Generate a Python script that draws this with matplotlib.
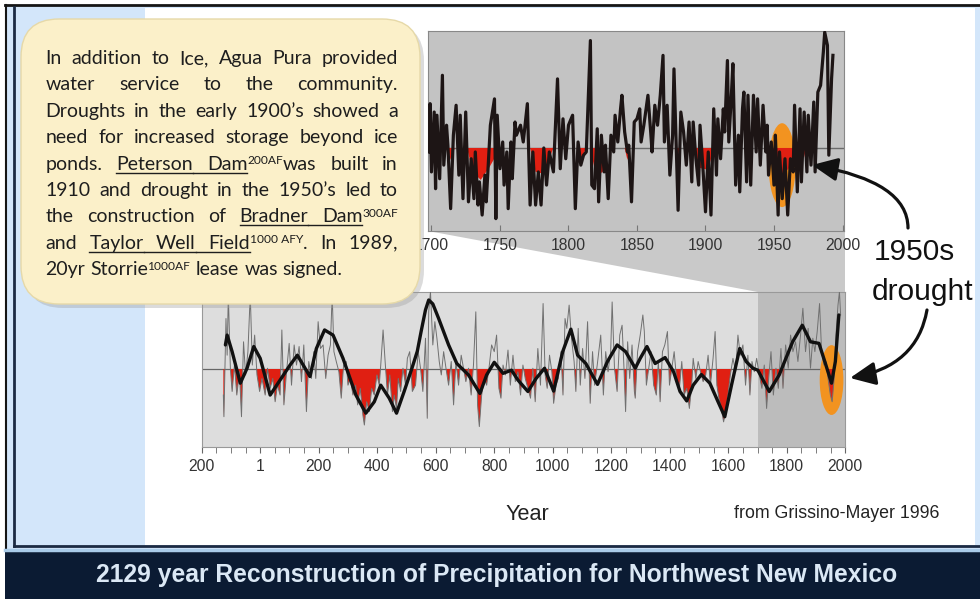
import matplotlib.pyplot as plt
import numpy as np
from matplotlib import font_manager
from matplotlib.patches import FancyBboxPatch, Ellipse, Polygon, Rectangle, FancyArrowPatch

# ---- values ----
# 1700-1992 panel: annual line (peaks/troughs) and the smoothed red deficit
top_years = [1698, 1699, 1700, 1702, 1703, 1704, 1706, 1708, 1709, 1711, 1712, 1714,
             1716, 1718, 1720, 1721, 1723, 1725, 1727, 1729, 1731, 1732, 1734, 1735,
             1737, 1739, 1740, 1743, 1746, 1747, 1748, 1750, 1752, 1753, 1755, 1756,
             1758, 1759, 1761, 1762, 1765, 1767, 1770, 1772, 1774, 1776, 1778, 1780,
             1782, 1784, 1786, 1789, 1792, 1794, 1796, 1798, 1800, 1803, 1805, 1807,
             1809, 1811, 1813, 1816, 1817, 1819, 1821, 1822, 1824, 1826, 1827, 1829,
             1831, 1833, 1834, 1836, 1838, 1839, 1841, 1843, 1844, 1846, 1848, 1850,
             1852, 1853, 1855, 1857, 1858, 1860, 1861, 1863, 1865, 1867, 1869, 1870,
             1872, 1874, 1876, 1877, 1879, 1880, 1882, 1884, 1886, 1888, 1890, 1891,
             1893, 1895, 1896, 1898, 1900, 1902, 1904, 1906, 1908, 1909, 1911, 1913,
             1914, 1916, 1917, 1919, 1920, 1922, 1924, 1925, 1927, 1928, 1930, 1931,
             1933, 1935, 1937, 1938, 1940, 1942, 1944, 1945, 1946, 1948, 1950, 1951,
             1953, 1954, 1956, 1958, 1960, 1962, 1964, 1965, 1967, 1969, 1970, 1972,
             1974, 1975, 1977, 1979, 1980, 1982, 1984, 1986, 1987, 1989, 1990, 1992, 1993]
top_vals = [-0.10, 1.11, -0.60, 0.90, -1.02, 0.82, -0.77, 1.82, -0.43, 0.57, 0.07, -1.52,
            0.32, 1.07, -0.68, 0.82, -1.27, 0.90, -1.35, -0.27, -1.27, -0.10, -1.43, -0.85,
            -1.68, -0.68, -1.35, 0.57, 1.23, -1.77, 0.82, -0.52, 0.15, -0.93, -0.10, -1.52,
            0.15, -0.77, 0.65, 0.32, 0.57, 0.15, 1.11, -1.43, -0.10, -1.43, -0.60, -1.43,
            0.00, -0.93, -0.10, -0.60, 1.73, -0.52, 0.73, -0.27, 0.57, 0.82, -1.52, 0.15,
            -0.43, -0.18, -0.10, 2.69, -0.93, -1.02, 0.48, -1.35, 0.32, -0.60, 0.07, -1.27,
            0.32, -0.10, 0.82, 0.15, 0.98, 1.32, 0.40, -0.10, 0.07, -1.35, 0.65, 0.73,
            0.98, 0.15, 0.57, 1.07, 1.32, 0.40, -0.10, 1.07, 0.57, 1.32, 2.32, 0.15,
            1.07, -0.68, 0.32, 1.98, -0.43, -1.56, 0.90, 0.40, -0.43, 0.65, -0.85, 0.65,
            -0.27, -0.93, 0.57, -0.43, -1.60, -0.10, -1.68, 0.98, -0.68, 0.73, -0.27, 0.98,
            0.40, 2.19, 0.15, 1.40, 2.11, -0.93, 0.32, -1.10, 0.98, 1.40, -0.85, 1.32,
            -0.93, 1.32, -0.10, 1.23, -0.43, 1.07, -0.10, 0.57, -0.68, 0.15, -0.93, 0.32,
            -1.68, -0.10, -1.27, -0.27, -1.68, -0.27, -0.60, 1.07, -1.10, 0.98, -0.85, 0.90,
            -0.60, 0.82, -0.43, 1.15, -0.60, 1.40, 1.57, 2.40, 2.90, 2.57, -0.18, 1.73, 2.32]
top_red_years = [1698, 1710, 1712, 1714, 1717, 1720, 1726, 1730, 1736, 1742, 1747, 1752,
                 1760, 1772, 1776, 1782, 1789, 1795, 1806, 1809, 1813, 1816, 1820, 1825,
                 1828, 1835, 1841, 1843, 1845, 1855, 1879, 1880, 1881, 1886, 1891, 1896,
                 1902, 1906, 1915, 1946, 1950, 1956, 1961, 1965, 1968, 1971, 1973, 1975,
                 1980, 1992]
top_red_vals = [0.2, 0.1, 0.0, -0.3, 0.0, 0.2, 0.0, -0.6, -0.8, -0.5, -0.2, 0.0,
                0.3, 0.0, -0.6, -0.65, 0.0, 0.3, 0.0, -0.3, 0.0, 0.0, -0.7, -0.6,
                0.0, 0.3, 0.0, -0.3, 0.0, 0.4, 0.0, -0.2, 0.0, 0.3, 0.0, -0.5,
                -0.55, 0.0, 0.5, 0.0, -0.6, -0.7, -0.5, 0.0, 0.3, 0.0, -0.3, 0.0,
                0.4, 1.0]
top_ticks = [1700, 1750, 1800, 1850, 1900, 1950, 2000]

# 136 BC - 1992 panel: annual values (thin line) and the smoothed curve
long_years = [-126, -124, -117, -113, -109, -102, -96, -88, -80, -71, -64, -57, -50, -42,
              -34, -27, -19, -11, -2, 6, 17, 25, 34, 43, 51, 59, 68, 74, 81, 90, 99, 107,
              116, 124, 133, 141, 149, 158, 166, 175, 183, 190, 198, 206, 215, 224, 232,
              240, 246, 252, 260, 269, 277, 285, 294, 300, 308, 317, 326, 333, 342, 351,
              356, 364, 373, 381, 390, 399, 407, 412, 420, 427, 435, 443, 452, 458, 466,
              472, 480, 488, 497, 503, 511, 520, 531, 540, 548, 556, 565, 571, 576, 582,
              590, 597, 604, 612, 619, 627, 635, 644, 653, 661, 669, 678, 687, 695, 703,
              712, 721, 729, 737, 743, 749, 757, 766, 774, 782, 791, 800, 808, 816, 823,
              830, 838, 847, 855, 864, 872, 881, 890, 898, 906, 915, 924, 932, 940, 949,
              958, 967, 974, 981, 989, 997, 1003, 1011, 1019, 1028, 1035, 1042, 1048,
              1056, 1064, 1073, 1079, 1087, 1094, 1102, 1110, 1119, 1128, 1136, 1143,
              1152, 1164, 1173, 1181, 1189, 1198, 1203, 1211, 1220, 1229, 1237, 1243,
              1249, 1256, 1263, 1271, 1279, 1282, 1290, 1299, 1308, 1313, 1320, 1328,
              1336, 1345, 1354, 1361, 1367, 1375, 1383, 1392, 1399, 1407, 1415, 1424,
              1433, 1441, 1449, 1458, 1467, 1475, 1480, 1489, 1497, 1505, 1514, 1523,
              1531, 1539, 1548, 1555, 1561, 1568, 1576, 1584, 1591, 1599, 1607, 1616,
              1625, 1633, 1641, 1650, 1659, 1667, 1674, 1681, 1689, 1697, 1706, 1715,
              1723, 1731, 1738, 1746, 1754, 1763, 1771, 1780, 1787, 1796, 1805, 1813,
              1821, 1830, 1838, 1847, 1855, 1864, 1873, 1881, 1889, 1896, 1904, 1912,
              1919, 1927, 1934, 1941, 1949, 1955, 1962, 1968, 1975, 1980, 1984]
long_vals = [-0.66, -1.21, 1.28, 0.35, 1.90, 0.02, -0.57, 0.10, -0.66, -0.07, -1.21, 0.69,
             -0.15, 0.44, 1.90, 0.10, 0.86, -0.15, -0.57, -0.24, -0.66, 0.02, -0.49, -0.24,
             -0.83, -0.41, -0.66, 0.99, -0.91, -0.07, 0.65, -0.41, 0.61, 0.10, 0.57, -0.32,
             0.61, -1.08, 0.19, -0.24, 0.44, -0.24, 1.20, 0.52, 0.61, -0.24, 0.35, 0.61,
             1.90, 0.44, 0.19, -0.07, -0.74, 0.10, 0.19, -0.41, -0.24, -0.66, -0.41, -0.91,
             -0.49, -1.17, -1.42, -0.83, -1.08, -0.49, -0.66, -0.15, -0.41, 0.10, 0.99, 0.19,
             -0.66, -0.15, -1.08, -0.66, -1.00, -0.24, -0.57, 0.02, -0.41, 0.27, 0.44, -0.57,
             -0.41, 0.44, 0.02, -0.57, 0.78, -1.25, 1.45, 1.96, 0.61, 1.20, 0.78, 0.19,
             -0.15, 0.44, 0.02, -0.41, 0.19, -0.91, 0.19, -0.41, 0.35, 0.02, -0.32, 0.02,
             -0.66, 0.10, 1.45, -0.91, -1.46, -0.66, -0.24, -0.41, 0.02, 0.61, 0.44, 0.86,
             -0.49, -0.74, 0.10, -0.15, 0.48, -0.41, 0.35, -0.32, -0.07, -0.66, 0.10, -0.24,
             -0.49, -0.74, 0.02, -0.83, 0.52, -0.41, 1.66, -0.15, -0.49, 0.35, -0.07, -0.87,
             -0.41, -0.24, 0.44, -0.66, 1.28, 1.03, 1.62, 0.78, 0.19, -0.57, 1.03, -0.41,
             0.52, -0.24, 1.20, -0.87, 0.44, -0.41, 0.10, 0.86, -0.66, 0.44, -0.07, 0.44,
             1.70, 0.02, -0.57, 0.86, 1.11, 0.10, -1.08, 0.69, -0.24, 0.61, -0.57, -0.74,
             0.44, 0.86, 1.37, 0.95, -0.41, 0.02, 0.44, -0.41, -0.66, 0.19, -0.83, 0.44,
             0.61, 0.95, -0.41, 0.02, 0.44, -0.32, -0.49, 0.19, -0.66, -0.49, -1.00, -0.41,
             0.27, -0.24, 0.19, -0.07, -0.32, -0.15, 0.35, -0.41, 0.27, 0.95, -0.41, -0.74,
             -1.00, -1.34, -1.08, -0.66, -0.15, 0.27, -0.07, 0.86, 0.35, 0.61, -0.41, 0.35,
             -0.66, 0.19, -0.07, 0.27, -0.15, -0.49, 0.10, -1.00, -0.24, 0.44, -0.66, 0.02,
             -0.49, 0.52, -0.49, 0.61, 0.02, 0.86, 0.44, 0.69, 0.19, 0.86, 1.54, 0.44,
             1.03, 0.02, 0.78, 0.44, 0.95, 1.66, 0.44, 0.10, 0.19, -0.24, -0.66, -0.83,
             -0.24, 0.86, 1.62, 1.96, 1.37]
smooth_years = [-119, -113, -96, -68, -45, -22, 0, 34, 68, 102, 127, 147, 170, 192, 220,
                249, 283, 327, 361, 390, 412, 441, 466, 492, 520, 537, 550, 565, 576, 590,
                610, 644, 672, 712, 751, 774, 800, 830, 859, 881, 915, 943, 972, 1003,
                1034, 1062, 1085, 1113, 1153, 1187, 1220, 1249, 1282, 1299, 1322, 1350,
                1384, 1413, 1435, 1458, 1480, 1508, 1537, 1565, 1588, 1611, 1639, 1661,
                1684, 1701, 1740, 1774, 1820, 1853, 1881, 1910, 1932, 1953, 1966, 1978]
smooth_vals = [0.61, 0.86, 0.44, -0.36, 0.02, 0.57, 0.27, -0.66, -0.28, 0.10, 0.35, 0.10,
               -0.19, 0.52, 0.99, 0.86, 0.27, -0.66, -1.12, -0.83, -0.41, -0.74, -1.12,
               -0.57, 0.05, 0.45, 0.95, 1.50, 1.75, 1.65, 1.28, 0.61, 0.14, -0.15, -0.62,
               -0.15, 0.17, -0.11, -0.03, -0.28, -0.57, -0.24, 0.02, -0.56, 0.44, 1.01,
               0.35, 0.14, -0.39, 0.19, 0.61, 0.44, 0.02, 0.27, 0.57, 0.14, 0.29, -0.07,
               -0.57, -0.81, -0.41, -0.14, -0.36, -0.83, -1.21, -0.41, 0.52, 0.19, 0.02,
               -0.03, -0.57, -0.15, 0.69, 1.11, 0.69, 0.65, 0.14, -0.36, 0.19, 1.37]
long_ticks = [-200, 0, 200, 400, 600, 800, 1000, 1200, 1400, 1600, 1800, 2000]
long_ticklabels = ["200", "1", "200", "400", "600", "800", "1000", "1200", "1400",
                   "1600", "1800", "2000"]

note_lines = [
    "In addition to Ice, Agua Pura provided",
    "water service to the community.",
    "Droughts in the early 1900\u2019s showed a",
    "need for increased storage beyond ice",
    "ponds. _Peterson _Dam^200AF^was built in",
    "1910 and drought in the 1950\u2019s led to",
    "the construction of _Bradner _Dam^300AF^",
    "and _Taylor _Well _Field^1000~AFY^. In 1989,",
    "20yr Storrie^1000AF^ lease was signed.",
]
title = "2129 year Reconstruction of Precipitation for Northwest New Mexico"

# ---- fonts ----
names = {f.name for f in font_manager.fontManager.ttflist}
has_narrow = "Liberation Sans Narrow" in names
NARROW = "Liberation Sans Narrow" if has_narrow else "Liberation Sans"
TICK_FS = 13 if has_narrow else 11.3
NOTE = "Lato"

W, H = 980, 599
fig = plt.figure(figsize=(W / 100, H / 100), dpi=100)
fig.patch.set_facecolor("white")


def rect(l, t, r, b):
    return [l / W, 1 - b / H, (r - l) / W, (b - t) / H]


# ---- slide background ----
bg = fig.add_axes([0, 0, 1, 1], zorder=0)
bg.set_xlim(0, W)
bg.set_ylim(H, 0)
bg.axis("off")
bg.add_patch(Rectangle((5, 5), 975, 545, color="#d3e6fa", lw=0))
bg.add_patch(Rectangle((145, 8), 830, 537, color="white", lw=0))
bg.plot([5, 980], [5, 5], color="#151515", lw=2)
bg.plot([6, 6], [5, 550], color="#151515", lw=1.5)
bg.plot([14, 14], [7, 546], color="#1b2a42", lw=2)
bg.plot([14, 980], [546, 546], color="#1b2a42", lw=2)
bg.plot([5, 980], [550, 550], color="#a9cbe8", lw=2.5)
bg.add_patch(Rectangle((5, 552), 975, 47, color="#0b1b33", lw=0))
bg.text(497, 575, title, ha="center", va="center", fontsize=17.7, family=NARROW,
        fontweight="bold", color="#dbe8f5")
bg.add_patch(Polygon([(428, 231), (845, 231), (845, 292), (758, 292)], closed=True,
                     color="#c9c9c9", lw=0))

# ---- 1700-2000 panel ----
ax1 = fig.add_axes(rect(428.3, 31, 844.3, 231), zorder=1)
ax1.set_facecolor("#c3c3c3")
ax1.set_xlim(1697.7, 2001.3)
ax1.set_ylim(-2.08, 2.93)
ax1.axhline(0, color="#6b6b6b", lw=1, zorder=1)
ax1.add_patch(Ellipse((1955.9, -0.43), 19.7, 2.1, color="#f29320", lw=0, zorder=2))
ry = np.array(top_red_vals)
ax1.fill_between(top_red_years, ry, 0, where=ry < 0, interpolate=True,
                 color="#e01f12", lw=0, zorder=3)
ax1.plot(top_years, top_vals, color="#1d1515", lw=2.3, zorder=4, solid_joinstyle="round")
ax1.set_yticks([])
ax1.set_xticks(top_ticks)
ax1.tick_params(axis="x", direction="in", length=4, color="#777777", pad=5,
                labelsize=TICK_FS, labelcolor="#333333")
for lab in ax1.get_xticklabels():
    lab.set_family(NARROW)
for s in ax1.spines.values():
    s.set_color("#888888")

# ---- long panel ----
ax2 = fig.add_axes(rect(201.7, 291.7, 845.3, 446.7), zorder=1)
ax2.set_facecolor("#dddddd")
ax2.set_xlim(-187, 2000)
ax2.set_ylim(-1.97, 1.96)
ax2.axvspan(1700, 2000, color="#bcbcbc", lw=0, zorder=0)
ax2.axhline(0, color="#666666", lw=0.9, zorder=1)
ax2.add_patch(Ellipse((1953, -0.28), 81, 1.77, color="#f29320", lw=0, zorder=2))
lv = np.array(long_vals)
ax2.fill_between(long_years, lv, 0, where=lv < 0, interpolate=True,
                 color="#e01f12", lw=0, zorder=3)
ax2.plot(long_years, long_vals, color="#707070", lw=0.7, zorder=4)
ax2.plot(smooth_years, smooth_vals, color="#111111", lw=2.4, zorder=5,
         solid_joinstyle="round", solid_capstyle="round")
ax2.set_yticks([])
ax2.set_xticks(long_ticks, long_ticklabels)
ax2.set_xticks(list(range(-150, 2000, 50)), minor=True)
ax2.tick_params(axis="x", which="both", direction="out", length=4, color="#666666",
                pad=5, labelsize=TICK_FS, labelcolor="#333333")
for lab in ax2.get_xticklabels():
    lab.set_family(NARROW)
for s in ax2.spines.values():
    s.set_color("#999999")

# ---- overlay: note box, arrows, labels ----
ov = fig.add_axes([0, 0, 1, 1], zorder=2)
ov.set_xlim(0, W)
ov.set_ylim(H, 0)
ov.axis("off")

ov.add_patch(FancyBboxPatch((25, 23), 399, 285, boxstyle="round,pad=0,rounding_size=38",
                            fc="#9a9a9a", ec="none", alpha=0.35))
ov.add_patch(FancyBboxPatch((21, 19), 399, 285, boxstyle="round,pad=0,rounding_size=38",
                            fc="#fbf0c9", ec="#e6d9a8", lw=1))

ov.text(527, 514, "Year", ha="center", va="center", fontsize=15.6, family=NARROW,
        color="#222222")
ov.text(837, 513, "from Grissino-Mayer 1996", ha="center", va="center", fontsize=12.8,
        family=NARROW, color="#222222")
ov.text(914, 252, "1950s", ha="center", va="center", fontsize=21.5, family=NARROW,
        color="#111111")
ov.text(923, 292, "drought", ha="center", va="center", fontsize=21.5, family=NARROW,
        color="#111111")

arrow_kw = dict(arrowstyle="-|>,head_length=0.7,head_width=0.32", mutation_scale=22,
                lw=2.3, color="#111111", shrinkA=0, shrinkB=0)
ov.add_patch(FancyArrowPatch((908, 228), (812, 165),
                             connectionstyle="angle3,angleA=90,angleB=170", **arrow_kw))
ov.add_patch(FancyArrowPatch((927, 310), (850, 378),
                             connectionstyle="angle3,angleA=-100,angleB=190", **arrow_kw))

# justified note text
renderer = fig.canvas.get_renderer()
fs = 14.0
x0, x1 = 45.5, 398
y0, dy = 64, 26.4
sup_rise = 5.5


def pieces(word):
    parts = word.split("^")
    out = []
    for j, p in enumerate(parts):
        p = p.replace("~", " ")
        if j % 2 == 1:
            out.append((p, "s"))
        elif p.startswith("_"):
            out.append((p[1:], "u"))
        elif p:
            out.append((p, "n"))
    return out


def width_of(s, size):
    t = ov.text(0, 0, s, fontsize=size, family=NOTE)
    w = t.get_window_extent(renderer).width
    t.remove()
    return w


space_w = width_of("a a", fs) - width_of("aa", fs)

for i, line in enumerate(note_lines):
    y = y0 + i * dy
    toks = []
    for word in line.split(" "):
        items, tw = [], 0
        for s, kind in pieces(word):
            size = fs * 0.62 if kind == "s" else fs
            t = ov.text(0, y - (sup_rise if kind == "s" else 0), s, fontsize=size,
                        family=NOTE, va="baseline", ha="left", color="#1e1e1e")
            w = t.get_window_extent(renderer).width
            items.append((t, kind, tw, w))
            tw += w
        toks.append((items, tw))
    if i < len(note_lines) - 1:
        gap = (x1 - x0 - sum(tw for _, tw in toks)) / (len(toks) - 1)
    else:
        gap = space_w
    x = x0
    last_kind, last_end = None, None
    for items, tw in toks:
        for t, kind, off, w in items:
            t.set_x(x + off)
            if kind == "u":
                start = last_end if last_kind == "u" else x + off
                ov.plot([start, x + off + w], [y + 3, y + 3], color="#1e1e1e", lw=1.0)
            last_kind, last_end = kind, x + off + w
        x += tw + gap

fig.savefig("out.png", dpi=100)
